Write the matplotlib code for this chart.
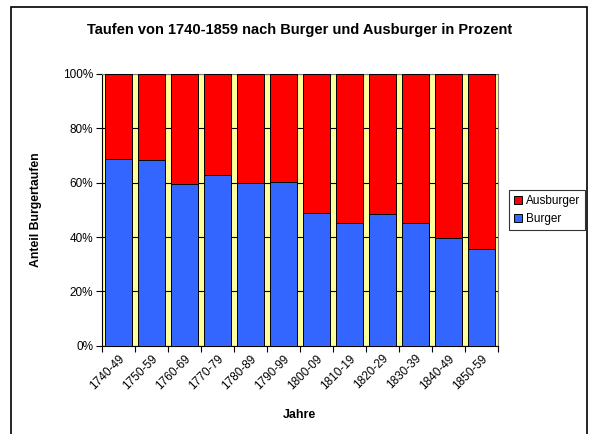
import numpy as np
import matplotlib
matplotlib.use('Agg')
import matplotlib.pyplot as plt
from matplotlib.patches import Rectangle
from matplotlib.ticker import PercentFormatter

plt.rcParams['font.family'] = ['Liberation Sans', 'DejaVu Sans']

# Data: share of baptisms (percent)
jahre = ['1740-49', '1750-59', '1760-69', '1770-79', '1780-89', '1790-99',
         '1800-09', '1810-19', '1820-29', '1830-39', '1840-49', '1850-59']
burger = [68.8, 68.5, 59.4, 62.7, 60.0, 60.2, 49.0, 45.0, 48.6, 45.0, 39.6, 35.5]
ausburger = [100 - b for b in burger]

fig = plt.figure(figsize=(5.89, 4.34), dpi=100)
ax = fig.add_axes([0.1727, 0.2035, 0.672, 0.626])
ax.set_facecolor('#FFFF99')

x = np.arange(len(jahre))
ax.bar(x, burger, width=0.82, color='#3366FF', edgecolor='black', linewidth=0.7,
       label='Burger', zorder=3)
ax.bar(x, ausburger, width=0.82, bottom=burger, color='#FF0000', edgecolor='black',
       linewidth=0.7, label='Ausburger', zorder=3)

ax.set_xlim(-0.5, len(jahre) - 0.5)
ax.set_ylim(0, 100)
ax.set_yticks(np.arange(0, 101, 20))
ax.yaxis.set_major_formatter(PercentFormatter(decimals=0))
ax.grid(axis='y', color='black', linewidth=0.8, zorder=1)

# ticks at category boundaries, labels centred on categories
ax.set_xticks(np.arange(-0.5, len(jahre), 1))
ax.set_xticklabels([])
ax.set_xticks(x, minor=True)
ax.set_xticklabels(jahre, minor=True, rotation=45, ha='right', rotation_mode='anchor',
                   fontsize=8.5)
ax.tick_params(axis='x', which='minor', length=0, pad=5)
ax.tick_params(axis='x', which='major', length=4, width=0.8, direction='out')
ax.tick_params(axis='y', length=4, width=0.8, labelsize=8.5, pad=2)

for s in ax.spines.values():
    s.set_linewidth(0.8)
ax.spines['top'].set_color('#808080')
ax.spines['right'].set_color('#808080')

ax.set_xlabel('Jahre', fontsize=9, fontweight='bold', labelpad=12)
ax.set_ylabel('Anteil Burgertaufen', fontsize=8.8, fontweight='bold', labelpad=15)
fig.text(0.508, 0.932, 'Taufen von 1740-1859 nach Burger und Ausburger in Prozent',
         ha='center', va='center', fontsize=10.5, fontweight='bold')

handles, labels = ax.get_legend_handles_labels()
leg = fig.legend(handles[::-1], labels[::-1], loc='center left',
                 bbox_to_anchor=(509 / 589, 1 - 210 / 434), fontsize=8.5,
                 frameon=True, fancybox=False, edgecolor='black',
                 handlelength=0.7, handleheight=0.7, handletextpad=0.3,
                 borderpad=0.4, labelspacing=0.5, borderaxespad=0)
leg.get_frame().set_linewidth(0.8)

# outer chart border
fig.patches.append(Rectangle((11 / 589, -0.01), 576 / 589, 1 - 7 / 434 + 0.01,
                             transform=fig.transFigure, fill=False,
                             edgecolor='black', linewidth=1.2))

fig.savefig('out.png', dpi=100)
